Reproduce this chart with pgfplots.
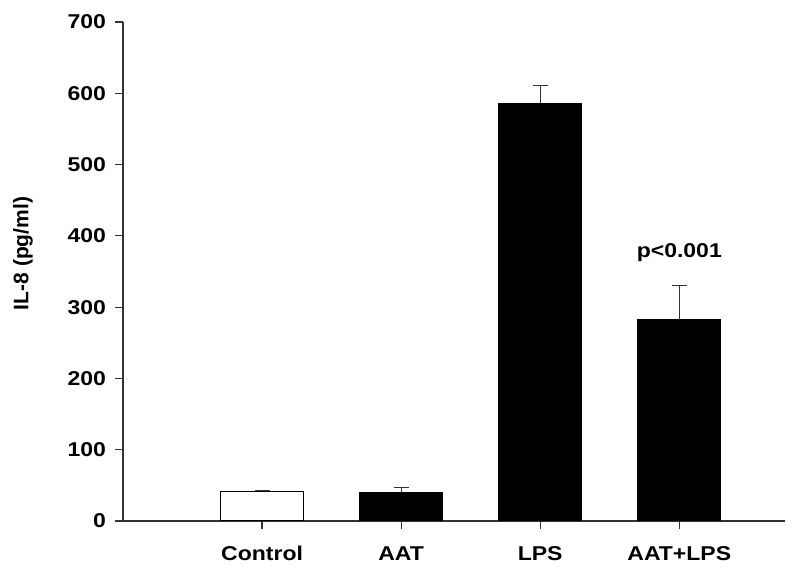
\documentclass[border=0pt]{standalone}
\usepackage{fontspec}
\setmainfont{Liberation Sans}
\newfontfamily\wide[FakeStretch=1.15]{Liberation Sans}
\usepackage{pgfplots}
\pgfplotsset{compat=1.18}

\begin{document}
\begin{tikzpicture}
\begin{axis}[
  name=ax,
  width=331pt, height=249.5pt, scale only axis,
  xmin=0, xmax=4.76, ymin=0, ymax=700,
  axis x line*=bottom, axis y line*=left,
  axis line style={line width=0.6pt, black!80},
  xtick={1,2,3,4},
  xticklabels={Control,AAT,LPS,AAT+LPS},
  ytick={0,100,...,700},
  tick align=outside, major tick length=4pt,
  tick style={line width=0.6pt, black!80},
  ticklabel style={font=\wide\fontsize{10}{12}\selectfont\bfseries},
  /pgf/number format/assume math mode=true,
  xticklabel style={anchor=base, yshift=-16pt},
  yticklabel style={xshift=-1pt},
  ybar, bar width=41.5pt,
  error bars/y dir=plus, error bars/y explicit,
  error bars/error bar style={line width=0.6pt, black!80},
  error bars/error mark options={rotate=90, mark size=3.75pt, line width=0.6pt, black!80},
]
\addplot[bar shift=0pt, fill=white, draw=black, line width=0.9pt] coordinates {(1,41.5) +- (0,1.5)};
\addplot[bar shift=0pt, fill=black, draw=black] coordinates {
  (2,40) +- (0,6.7)
  (3,586) +- (0,25)
  (4,282.5) +- (0,48)
};
\node[font=\wide\fontsize{10}{12}\selectfont\bfseries] at (axis cs:4,376) {p<0.001};
\end{axis}
\node[rotate=90, font=\fontsize{10.5}{12}\selectfont\bfseries] at ([xshift=-50pt,yshift=9pt]ax.west) {IL-8 (pg/ml)};
\useasboundingbox (-61.5pt,-28pt) rectangle (338.5pt,260.5pt);
\end{tikzpicture}
\end{document}
